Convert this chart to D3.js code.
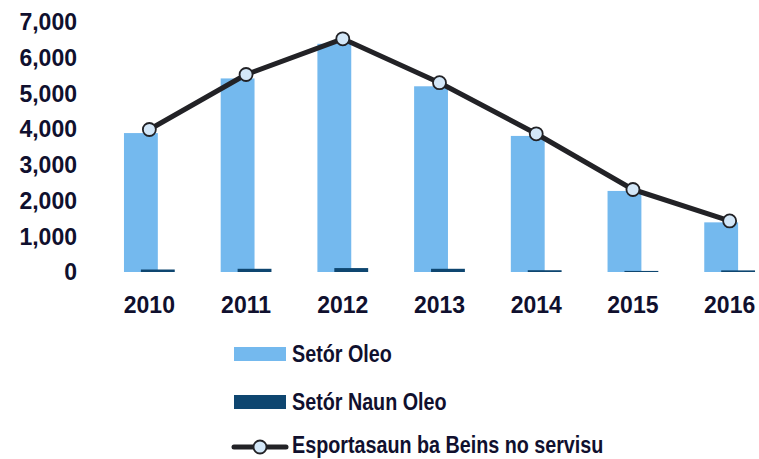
<!DOCTYPE html>
<html>
<head>
<meta charset="utf-8">
<script src="https://cdn.jsdelivr.net/npm/d3@7"></script>
<style>
  body { margin: 0; background: #fff; }
  svg text { fill: #10102e; font-weight: bold; font-family: "Liberation Sans", Arial, sans-serif; }
  .num { font-size: 23px; }
  .leg { font-size: 23.5px; }
</style>
</head>
<body>
<div id="chart"></div>
<script>
// values
var years = ["2010", "2011", "2012", "2013", "2014", "2015", "2016"];
var oilSector = [3890, 5420, 6390, 5200, 3810, 2270, 1390];
var nonOilSector = [70, 90, 110, 90, 50, 30, 45];
var serviceExports = [3990, 5530, 6530, 5300, 3870, 2310, 1430];
var yTicks = [0, 1000, 2000, 3000, 4000, 5000, 6000, 7000];
var legendNames = ["Setór Oleo", "Setór Naun Oleo", "Esportasaun ba Beins no servisu"];

var lightBlue = "#74b9ee", darkBlue = "#0e4670", lineCol = "#222226", markerFill = "#d3e7f8";

var svg = d3.select("#chart").append("svg").attr("width", 759).attr("height", 459);

var x = d3.scaleBand().domain(years).range([101, 778]).padding(0);
var y = d3.scaleLinear().domain([0, 7000]).range([272, 22]);
var barW = x.bandwidth() * 0.35;

// y labels (no axis line)
svg.append("g").selectAll("text").data(yTicks).enter().append("text")
  .attr("class", "num")
  .attr("x", 77).attr("y", function(d) { return y(d); })
  .attr("dy", "0.36em").attr("text-anchor", "end")
  .text(d3.format(","));

// x labels
svg.append("g").selectAll("text").data(years).enter().append("text")
  .attr("class", "num")
  .attr("x", function(d) { return x(d) + x.bandwidth() / 2; })
  .attr("y", 305).attr("dy", "0.36em").attr("text-anchor", "middle")
  .text(function(d) { return d; });

// bars
svg.append("g").selectAll("rect").data(oilSector).enter().append("rect")
  .attr("x", function(d, i) { return x(years[i]) + x.bandwidth() / 2 - barW * 0.75; })
  .attr("y", function(d) { return y(d); })
  .attr("width", barW)
  .attr("height", function(d) { return y(0) - y(d); })
  .attr("fill", lightBlue);

svg.append("g").selectAll("rect").data(nonOilSector).enter().append("rect")
  .attr("x", function(d, i) { return x(years[i]) + x.bandwidth() / 2 - barW * 0.25; })
  .attr("y", function(d) { return y(d); })
  .attr("width", barW)
  .attr("height", function(d) { return y(0) - y(d); })
  .attr("fill", darkBlue);

// line
var line = d3.line()
  .x(function(d, i) { return x(years[i]) + x.bandwidth() / 2; })
  .y(function(d) { return y(d); });

svg.append("path").datum(serviceExports)
  .attr("d", line).attr("fill", "none")
  .attr("stroke", lineCol).attr("stroke-width", 5).attr("stroke-linejoin", "round");

svg.append("g").selectAll("circle").data(serviceExports).enter().append("circle")
  .attr("cx", function(d, i) { return x(years[i]) + x.bandwidth() / 2; })
  .attr("cy", function(d) { return y(d); })
  .attr("r", 6.5)
  .attr("fill", markerFill).attr("stroke", lineCol).attr("stroke-width", 1.8);

// legend
var leg = svg.append("g");
var rowY = [354, 402, 446];
leg.append("rect").attr("x", 234).attr("y", rowY[0] - 7).attr("width", 52).attr("height", 14).attr("fill", lightBlue);
leg.append("rect").attr("x", 234).attr("y", rowY[1] - 7).attr("width", 52).attr("height", 14).attr("fill", darkBlue);
leg.append("line").attr("x1", 234).attr("x2", 286).attr("y1", rowY[2] + 1).attr("y2", rowY[2] + 1)
  .attr("stroke", lineCol).attr("stroke-width", 5).attr("stroke-linecap", "round");
leg.append("circle").attr("cx", 260).attr("cy", rowY[2] + 1).attr("r", 6.5)
  .attr("fill", markerFill).attr("stroke", lineCol).attr("stroke-width", 1.8);

// condensed bold text like the original
leg.selectAll("text").data(legendNames).enter().append("text")
  .attr("class", "leg")
  .attr("transform", function(d, i) { return "translate(292," + (i == 2 ? rowY[i] - 1 : rowY[i]) + ") scale(0.84,1)"; })
  .attr("dy", "0.36em")
  .text(function(d) { return d; });
</script>
</body>
</html>
